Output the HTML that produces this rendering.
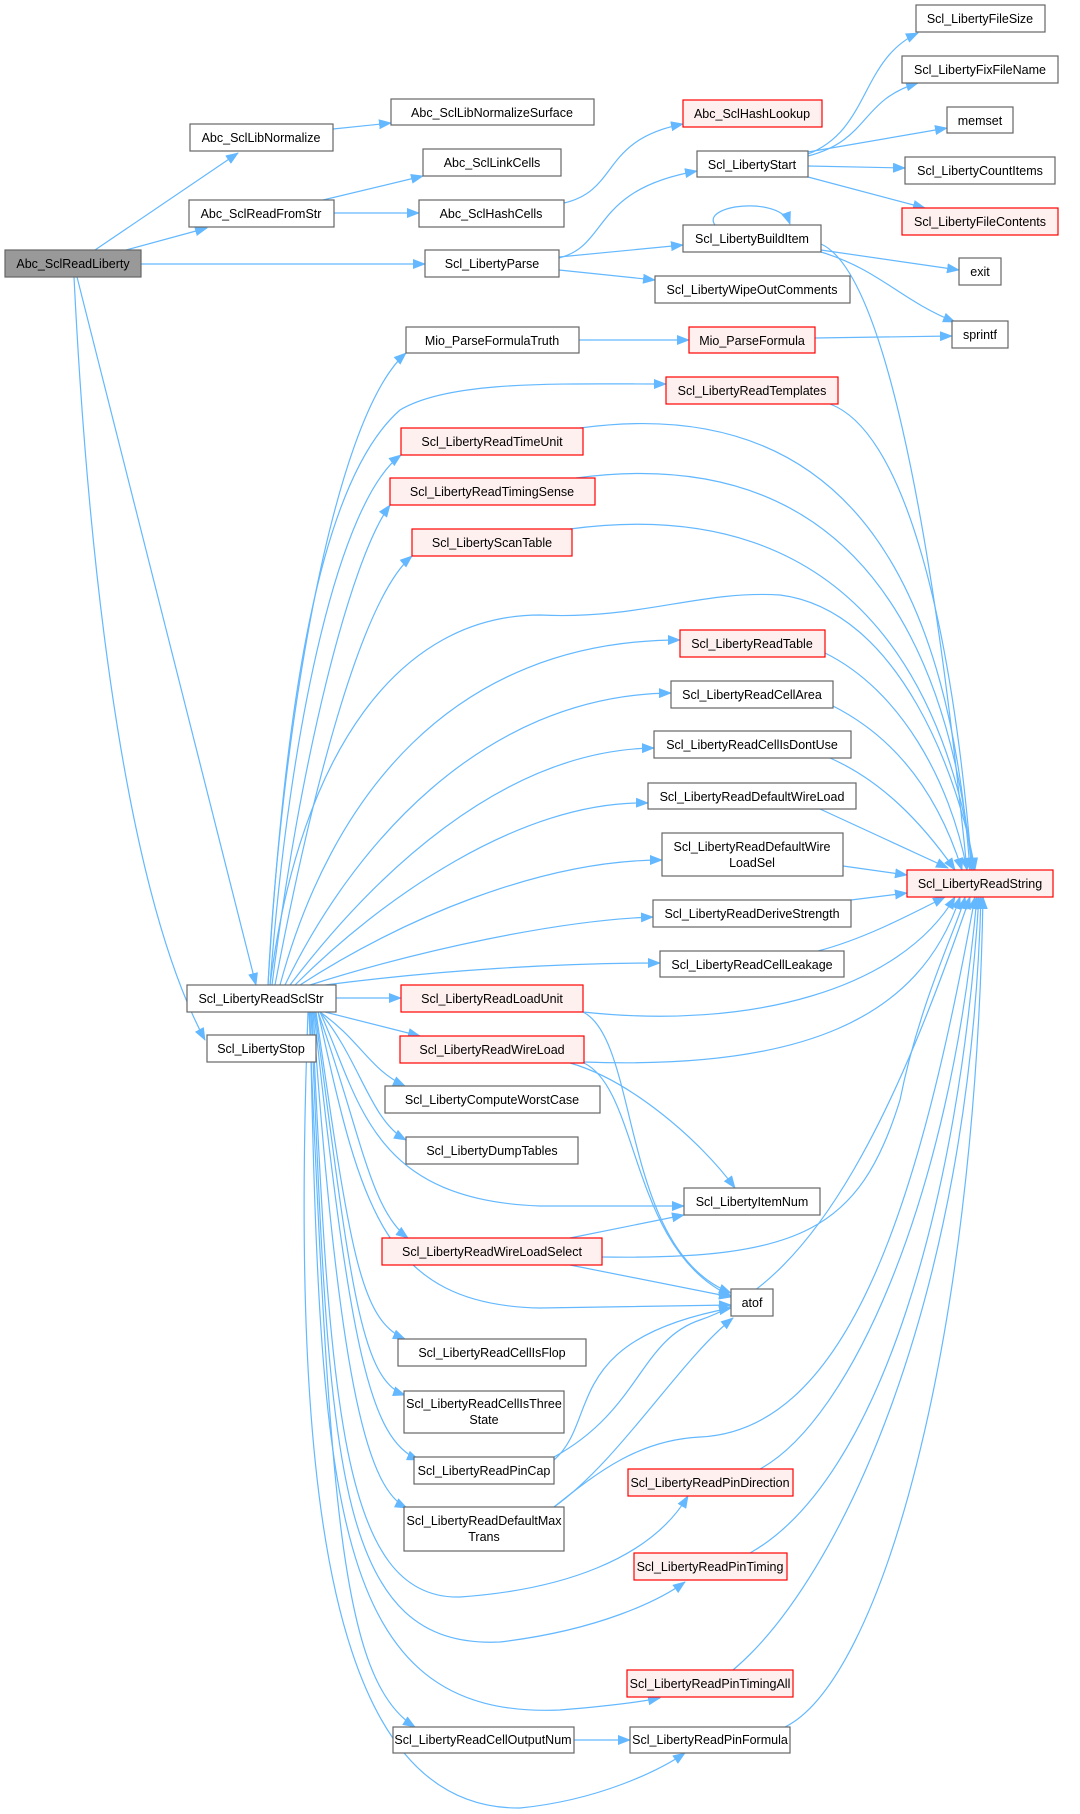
<!DOCTYPE html>
<html><head><meta charset="utf-8"><style>html,body{margin:0;padding:0;background:#fff}svg{display:block}</style></head>
<body>
<svg width="1080" height="1814" viewBox="0 0 1080 1814" xmlns="http://www.w3.org/2000/svg" font-family="'Liberation Sans', Arial, sans-serif" font-size="12.5">
<defs><marker id="a" markerUnits="userSpaceOnUse" markerWidth="13" markerHeight="10" refX="12" refY="5" orient="auto"><path d="M0,0 L13,5 L0,10 z" fill="#63b8ff"/></marker></defs>
<g fill="none" stroke="#63b8ff" stroke-width="1.2" marker-end="url(#a)">
<path d="M95,250 L238,153"/><path d="M126,250 L207,228"/><path d="M141,264 L425,264"/><path d="M77,277 L256,985"/><path d="M74,277 C90,600 130,900 205,1040"/>
<path d="M333,129 L391,123"/><path d="M323,200 L423,176"/><path d="M334,213 L419,213"/>
<path d="M564,203 C620,190 600,140 683,124"/>
<path d="M559,258 C610,245 590,190 697,171"/><path d="M559,257 L683,245"/><path d="M559,270 L655,280"/>
<path d="M808,154 C870,130 860,60 918,33"/><path d="M808,156 C870,140 860,100 918,83"/><path d="M808,152 L947,128"/><path d="M808,166 L905,168"/><path d="M808,177 L925,208"/>
<path d="M715,225 C700,205 780,195 790,224"/>
<path d="M821,250 L959,270"/><path d="M821,252 C880,270 900,300 955,322"/><path d="M821,244 C880,270 930,500 967,870"/>
<path d="M579,340 L689,340"/><path d="M815,338 L952,336"/>
<path d="M830,404 C900,430 950,600 972,870"/>
<path d="M580,428 C860,390 950,600 970,870"/>
<path d="M576,478 C860,440 950,650 972,870"/>
<path d="M570,529 C860,490 950,700 974,870"/>
<path d="M270,985 C300,750 400,615 540,615 C640,620 700,590 780,595 C900,610 960,780 975,870"/>
<path d="M825,653 C900,690 950,780 967,870"/><path d="M833,706 C900,740 940,800 962,870"/><path d="M830,758 C880,780 920,820 955,870"/>
<path d="M820,809 L948,868"/><path d="M843,866 L907,875"/><path d="M851,900 L907,893"/><path d="M818,951 C860,940 900,920 945,897"/>
<path d="M583,1012 C750,1030 900,990 955,897"/><path d="M583,1012 C640,1040 620,1250 731,1293"/>
<path d="M584,1062 C800,1070 920,1020 960,897"/><path d="M570,1063 C630,1080 700,1140 735,1188"/><path d="M584,1063 C640,1090 630,1250 731,1296"/>
<path d="M570,1238 L684,1215"/><path d="M602,1257 C800,1260 860,1230 900,1100 C920,1000 960,920 965,897"/><path d="M570,1265 L731,1297"/>
<path d="M554,1460 C600,1420 560,1340 731,1308"/><path d="M554,1457 C640,1410 640,1340 700,1320 C820,1280 900,1100 970,897"/>
<path d="M554,1507 C620,1460 680,1360 733,1318"/><path d="M554,1507 C600,1470 640,1440 700,1437 C850,1430 920,1200 975,897"/>
<path d="M760,1469 C850,1420 950,1200 977,897"/><path d="M750,1553 C880,1480 960,1200 979,897"/><path d="M733,1670 C840,1580 970,1300 981,897"/><path d="M785,1727 C880,1680 975,1350 983,897"/>
<path d="M574,1740 L630,1740"/>
<path d="M268,985 C280,750 330,420 406,353"/>
<path d="M268,985 C285,700 320,480 400,410 C450,380 560,384 666,384"/>
<path d="M270,985 C290,720 340,500 401,455"/>
<path d="M272,985 C300,760 350,560 390,505"/>
<path d="M275,985 C310,800 360,600 412,556"/>
<path d="M280,985 C330,800 450,640 680,640"/>
<path d="M285,985 C350,850 480,695 671,693"/>
<path d="M290,985 C370,880 500,750 654,748"/>
<path d="M295,985 C380,900 520,800 648,803"/>
<path d="M300,985 C400,920 540,860 662,860"/>
<path d="M310,985 C420,950 560,920 653,917"/>
<path d="M325,985 C440,970 560,963 660,963"/>
<path d="M336,998 L401,998"/><path d="M325,1012 L420,1036"/>
<path d="M320,1012 C360,1040 370,1070 405,1086"/>
<path d="M320,1012 C360,1060 370,1120 406,1140"/>
<path d="M320,1012 C360,1100 370,1200 540,1206 L684,1206"/>
<path d="M318,1012 C360,1130 370,1210 408,1238"/>
<path d="M318,1012 C360,1200 380,1305 540,1308 L731,1305"/>
<path d="M316,1012 C350,1250 360,1320 405,1339"/>
<path d="M315,1012 C350,1280 360,1380 405,1395"/>
<path d="M314,1012 C350,1350 370,1440 419,1460"/>
<path d="M313,1012 C340,1400 370,1490 407,1508"/>
<path d="M312,1012 C330,1400 340,1600 460,1597 C560,1590 650,1560 688,1496"/>
<path d="M311,1012 C330,1450 330,1650 500,1642 C600,1630 660,1600 685,1582"/>
<path d="M310,1012 C320,1500 330,1720 560,1710 C620,1705 650,1700 660,1698"/>
<path d="M309,1012 C330,1500 340,1680 415,1727"/>
<path d="M308,1012 C290,1500 330,1810 520,1808 C600,1800 660,1770 685,1753"/>
</g>
<g stroke-width="1.2">
<g fill="#fff" stroke="#666">
<rect x="190" y="124" width="143" height="27"/><rect x="391" y="99" width="203" height="26"/><rect x="423" y="149" width="138" height="27"/>
<rect x="189" y="200" width="145" height="27"/><rect x="419" y="200" width="145" height="27"/><rect x="425" y="250" width="134" height="27"/>
<rect x="697" y="151" width="111" height="26"/><rect x="916" y="5" width="129" height="27"/><rect x="902" y="56" width="156" height="27"/>
<rect x="947" y="107" width="66" height="26"/><rect x="905" y="157" width="150" height="27"/><rect x="683" y="225" width="138" height="27"/>
<rect x="959" y="258" width="42" height="27"/><rect x="655" y="276" width="195" height="27"/><rect x="952" y="321" width="56" height="27"/>
<rect x="406" y="327" width="173" height="26"/>
<rect x="671" y="681" width="162" height="27"/><rect x="654" y="731" width="197" height="27"/><rect x="648" y="783" width="208" height="26"/>
<rect x="662" y="833" width="181" height="43"/><rect x="653" y="900" width="198" height="27"/><rect x="660" y="951" width="184" height="26"/>
<rect x="187" y="985" width="149" height="27"/><rect x="207" y="1035" width="109" height="27"/>
<rect x="385" y="1086" width="215" height="27"/><rect x="406" y="1137" width="172" height="27"/><rect x="684" y="1188" width="136" height="27"/>
<rect x="731" y="1289" width="42" height="27"/><rect x="398" y="1339" width="188" height="27"/><rect x="404" y="1391" width="160" height="42"/>
<rect x="414" y="1457" width="140" height="27"/><rect x="404" y="1507" width="160" height="44"/>
<rect x="393" y="1727" width="181" height="26"/><rect x="630" y="1727" width="160" height="26"/>
</g>
<rect x="5" y="250" width="136" height="27" fill="#999" stroke="#666"/>
<g fill="#fff0f0" stroke="#f00">
<rect x="683" y="100" width="139" height="27"/><rect x="902" y="208" width="156" height="27"/><rect x="689" y="327" width="126" height="26"/>
<rect x="666" y="377" width="172" height="27"/><rect x="401" y="428" width="182" height="27"/><rect x="390" y="478" width="205" height="27"/>
<rect x="412" y="529" width="160" height="27"/><rect x="680" y="630" width="145" height="27"/><rect x="907" y="870" width="146" height="27"/>
<rect x="401" y="985" width="182" height="27"/><rect x="400" y="1036" width="184" height="27"/><rect x="382" y="1238" width="220" height="27"/>
<rect x="628" y="1469" width="165" height="27"/><rect x="634" y="1553" width="153" height="27"/><rect x="627" y="1670" width="166" height="27"/>
</g>
</g>
<g fill="#000" text-anchor="middle">
<text x="73" y="268">Abc_SclReadLiberty</text>
<text x="261" y="142">Abc_SclLibNormalize</text><text x="492" y="117">Abc_SclLibNormalizeSurface</text><text x="492" y="167">Abc_SclLinkCells</text>
<text x="261" y="218">Abc_SclReadFromStr</text><text x="491" y="218">Abc_SclHashCells</text><text x="492" y="268">Scl_LibertyParse</text>
<text x="752" y="118">Abc_SclHashLookup</text><text x="752" y="169">Scl_LibertyStart</text><text x="980" y="23">Scl_LibertyFileSize</text>
<text x="980" y="74">Scl_LibertyFixFileName</text><text x="980" y="125">memset</text><text x="980" y="175">Scl_LibertyCountItems</text>
<text x="980" y="226">Scl_LibertyFileContents</text><text x="752" y="243">Scl_LibertyBuildItem</text><text x="980" y="276">exit</text>
<text x="752" y="294">Scl_LibertyWipeOutComments</text><text x="980" y="339">sprintf</text>
<text x="492" y="345">Mio_ParseFormulaTruth</text><text x="752" y="345">Mio_ParseFormula</text>
<text x="752" y="395">Scl_LibertyReadTemplates</text><text x="492" y="446">Scl_LibertyReadTimeUnit</text><text x="492" y="496">Scl_LibertyReadTimingSense</text>
<text x="492" y="547">Scl_LibertyScanTable</text><text x="752" y="648">Scl_LibertyReadTable</text><text x="752" y="699">Scl_LibertyReadCellArea</text>
<text x="752" y="749">Scl_LibertyReadCellIsDontUse</text><text x="752" y="801">Scl_LibertyReadDefaultWireLoad</text>
<text x="752" y="851">Scl_LibertyReadDefaultWire</text><text x="752" y="867">LoadSel</text>
<text x="980" y="888">Scl_LibertyReadString</text><text x="752" y="918">Scl_LibertyReadDeriveStrength</text><text x="752" y="969">Scl_LibertyReadCellLeakage</text>
<text x="261" y="1003">Scl_LibertyReadSclStr</text><text x="261" y="1053">Scl_LibertyStop</text>
<text x="492" y="1003">Scl_LibertyReadLoadUnit</text><text x="492" y="1054">Scl_LibertyReadWireLoad</text>
<text x="492" y="1104">Scl_LibertyComputeWorstCase</text><text x="492" y="1155">Scl_LibertyDumpTables</text><text x="752" y="1206">Scl_LibertyItemNum</text>
<text x="492" y="1256">Scl_LibertyReadWireLoadSelect</text><text x="752" y="1307">atof</text><text x="492" y="1357">Scl_LibertyReadCellIsFlop</text>
<text x="484" y="1408">Scl_LibertyReadCellIsThree</text><text x="484" y="1424">State</text>
<text x="484" y="1475">Scl_LibertyReadPinCap</text><text x="710" y="1487">Scl_LibertyReadPinDirection</text>
<text x="484" y="1525">Scl_LibertyReadDefaultMax</text><text x="484" y="1541">Trans</text>
<text x="710" y="1571">Scl_LibertyReadPinTiming</text><text x="710" y="1688">Scl_LibertyReadPinTimingAll</text>
<text x="483" y="1744">Scl_LibertyReadCellOutputNum</text><text x="710" y="1744">Scl_LibertyReadPinFormula</text>
</g>
</svg>
</body></html>
